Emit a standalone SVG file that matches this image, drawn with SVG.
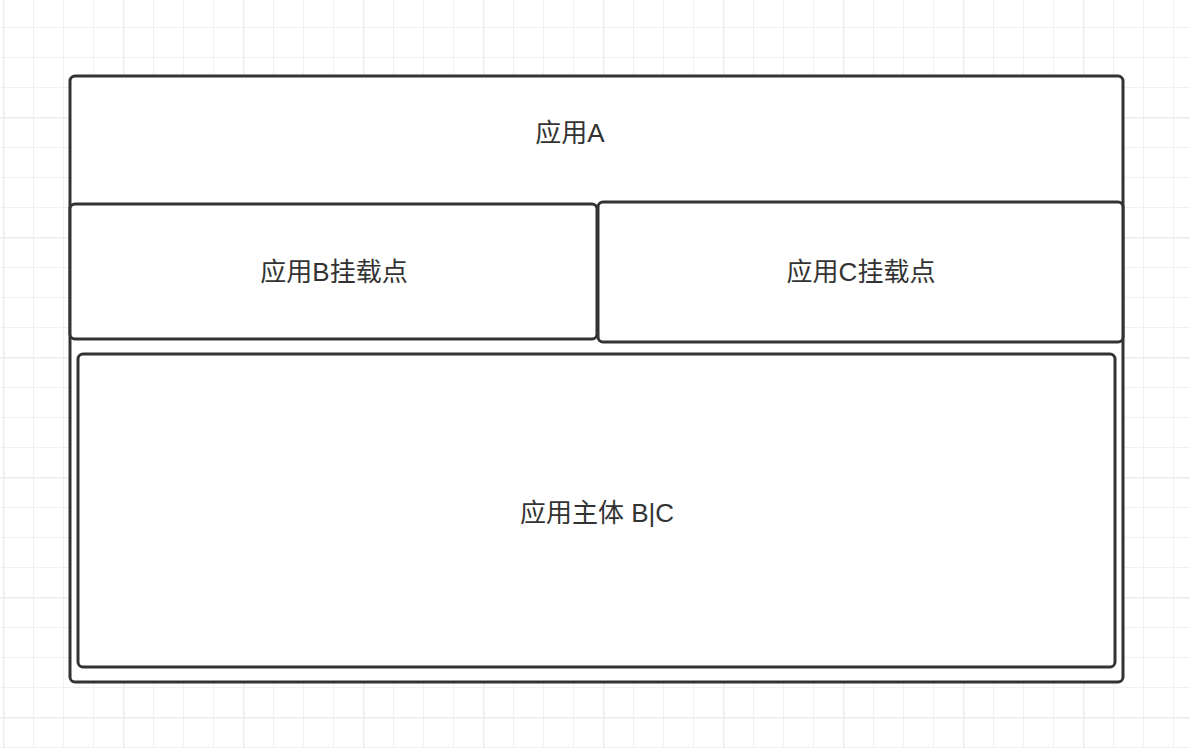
<svg xmlns="http://www.w3.org/2000/svg" width="1190" height="748" viewBox="0 0 1190 748">
  <defs>
    <pattern id="minor" x="3" y="-3" width="30" height="30" patternUnits="userSpaceOnUse">
      <path d="M0 0V30M0 0H30" fill="none" stroke="#f0f0f0" stroke-width="2"/>
    </pattern>
    <pattern id="major" x="3" y="-3" width="120" height="120" patternUnits="userSpaceOnUse">
      <path d="M0 0V120M0 0H120" fill="none" stroke="#ebebeb" stroke-width="3"/>
    </pattern>
  </defs>
  <style>
    .box { fill: #ffffff; stroke: #333333; stroke-width: 3; }
    .label { font-family: "Liberation Sans", "Noto Sans CJK SC", sans-serif; font-size: 26px; fill: #333333; text-anchor: middle; dominant-baseline: central; }
  </style>
  <!-- canvas grid -->
  <rect width="1190" height="748" fill="#ffffff"/>
  <rect width="1190" height="748" fill="url(#minor)"/>
  <rect width="1190" height="748" fill="url(#major)"/>

  <g id="app-a">
    <rect class="box" x="70" y="76" width="1053" height="606" rx="5"/>
    <text class="label" x="570" y="133">应用A</text>
  </g>
  <g id="mount-b">
    <rect class="box" x="70" y="204" width="527" height="135" rx="5"/>
    <text class="label" x="334" y="272">应用B挂载点</text>
  </g>
  <g id="mount-c">
    <rect class="box" x="598" y="202" width="525" height="140" rx="5"/>
    <text class="label" x="861" y="272">应用C挂载点</text>
  </g>
  <g id="app-body">
    <rect class="box" x="78" y="354" width="1037" height="313" rx="5"/>
    <text class="label" x="597" y="513">应用主体 B|C</text>
  </g>
  <g id="connectors"></g>
</svg>
